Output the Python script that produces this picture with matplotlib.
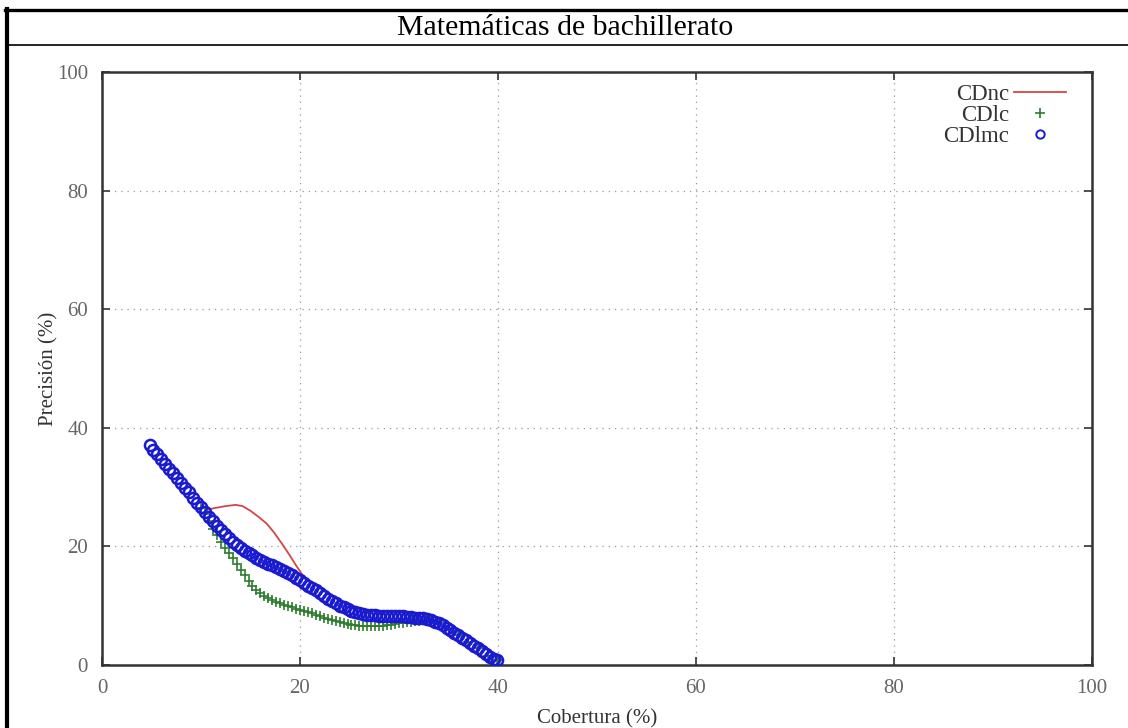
import matplotlib
matplotlib.use("Agg")
import matplotlib.pyplot as plt
from matplotlib.lines import Line2D

plt.rcParams['font.family'] = ['Liberation Serif', 'DejaVu Serif']

title = "Matemáticas de bachillerato"
xlabel = "Cobertura (%)"
ylabel = "Precisión (%)"
ticks = [0, 20, 40, 60, 80, 100]

# CDnc (red line)
cdnc_x = [10.6, 11.5, 12.5, 13.5, 14.2, 15.0, 15.8, 16.6, 17.4, 18.2, 19.0, 19.6, 20.2]
cdnc_y = [26.2, 26.5, 26.8, 27.0, 26.8, 26.0, 25.0, 23.9, 22.3, 20.4, 18.4, 16.8, 15.3]

# CDlc (green crosses)
cdlc_x = [10.0, 10.4, 10.8, 11.2, 11.6, 12.0, 12.4, 12.8, 13.2, 13.6, 14.0, 14.4, 14.8,
          15.2, 15.6, 16.0, 16.4, 16.8, 17.2, 17.6, 18.0, 18.4, 18.8, 19.2, 19.6, 20.0,
          20.4, 20.8, 21.2, 21.6, 22.0, 22.4, 22.8, 23.2, 23.6, 24.0, 24.4, 24.8, 25.2,
          25.6, 26.0, 26.4, 26.8, 27.2, 27.6, 28.0, 28.4, 28.8, 29.2, 29.6, 30.0, 30.4,
          30.8, 31.2, 31.6, 32.0, 32.4, 32.8, 33.2, 34.0, 35.0, 36.0, 37.0, 38.0, 39.0, 39.9]
cdlc_y = [26.4, 25.4, 24.2, 23.0, 21.9, 20.8, 19.8, 18.9, 18.0, 17.0, 16.0, 15.1, 14.2,
          13.4, 12.7, 12.2, 11.7, 11.3, 11.0, 10.7, 10.4, 10.1, 9.9, 9.7, 9.5, 9.3,
          9.1, 8.9, 8.7, 8.5, 8.3, 8.0, 7.8, 7.6, 7.4, 7.2, 7.0, 6.9, 6.8,
          6.7, 6.6, 6.5, 6.5, 6.5, 6.5, 6.6, 6.6, 6.7, 6.8, 6.9, 7.0, 7.1,
          7.2, 7.3, 7.4, 7.5, 7.6, 7.6, 7.5, 7.0, 6.2, 5.0, 3.9, 2.8, 1.6, 0.8]

# CDlmc (blue circles)
cdlmc_x = [4.8, 5.2, 5.6, 6.0, 6.4, 6.8, 7.2, 7.6, 8.0, 8.4, 8.8, 9.2, 9.6, 10.0,
           10.4, 10.8, 11.2, 11.6, 12.0, 12.4, 12.8, 13.2, 13.6, 14.0, 14.4, 14.8,
           15.2, 15.6, 16.0, 16.4, 16.8, 17.2, 17.6, 18.0, 18.4, 18.8, 19.2, 19.6,
           20.0, 20.4, 20.8, 21.2, 21.6, 22.0, 22.4, 22.8, 23.2, 23.6, 24.0, 24.4,
           24.8, 25.2, 25.6, 26.0, 26.4, 26.8, 27.2, 27.6, 28.0, 28.4, 28.8, 29.2,
           29.6, 30.0, 30.4, 30.8, 31.2, 31.6, 32.0, 32.4, 32.8, 33.2, 33.6, 34.0,
           34.4, 34.8, 35.2, 35.6, 36.0, 36.4, 36.8, 37.2, 37.6, 38.0, 38.4, 38.8,
           39.2, 39.6, 39.9]
cdlmc_y = [37.1, 36.3, 35.5, 34.7, 33.9, 33.1, 32.3, 31.5, 30.7, 29.9, 29.1, 28.2, 27.4, 26.6,
           25.8, 25.0, 24.2, 23.5, 22.8, 22.1, 21.4, 20.8, 20.2, 19.7, 19.3, 18.9,
           18.5, 18.1, 17.7, 17.4, 17.1, 16.8, 16.5, 16.2, 15.9, 15.5, 15.1, 14.7,
           14.3, 13.9, 13.4, 13.0, 12.6, 12.2, 11.7, 11.2, 10.8, 10.4, 10.0, 9.7,
           9.4, 9.1, 8.9, 8.7, 8.6, 8.5, 8.4, 8.4, 8.3, 8.3, 8.3, 8.3,
           8.2, 8.2, 8.2, 8.1, 8.1, 8.0, 8.0, 7.9, 7.8, 7.6, 7.3, 7.0,
           6.7, 6.3, 5.9, 5.4, 5.0, 4.6, 4.2, 3.7, 3.2, 2.8, 2.3, 1.8,
           1.4, 1.0, 0.8]

fig = plt.figure(figsize=(11.28, 7.28), dpi=100)
ax = fig.add_axes([102 / 1128, 63 / 728, 990 / 1128, 593 / 728])

ax.plot(cdnc_x, cdnc_y, color='#d64545', lw=1.3, label='CDnc', zorder=3)
ax.plot(cdlc_x, cdlc_y, ls='none', marker='+', ms=7, mew=1.2, color='#2e7d2e',
        label='CDlc', zorder=4)
ax.plot(cdlmc_x, cdlmc_y, ls='none', marker='o', ms=8, mew=1.8, mfc='none',
        mec='#1a1ad0', label='CDlmc', zorder=5)

ax.set_xlim(0, 100)
ax.set_ylim(0, 100)
ax.set_xticks(ticks)
ax.set_yticks(ticks)
ax.grid(True, color='#999999', linestyle=(0, (1, 4)), lw=0.9)
ax.tick_params(direction='in', top=True, right=True, length=6, width=1.2,
               labelsize=15, labelcolor='#666666', color='#333333', pad=10)
for sp in ax.spines.values():
    sp.set_color('#333333')
    sp.set_linewidth(1.8)

ax.set_xlabel(xlabel, fontsize=15, color='#333333', labelpad=8)
ax.set_ylabel(ylabel, fontsize=15, color='#333333', labelpad=-1)

leg = ax.legend(loc='upper right', bbox_to_anchor=(0.995, 1.015), frameon=False,
                markerfirst=False, numpoints=1, handlelength=2.3, handletextpad=0.2,
                labelspacing=0.0, fontsize=16.5)
for t in leg.get_texts():
    t.set_color('#333333')
leg.legend_handles[2].set_markersize(6)
leg.legend_handles[2].set_markeredgewidth(1.4)

fig.text(0.501, 1 - 28 / 728, title, ha='center', va='center', fontsize=21.5)

# table cell frame around the chart
fig.add_artist(Line2D([5 / 1128, 1], [1 - 10 / 728] * 2, color='black', lw=2.4,
                      transform=fig.transFigure))
fig.add_artist(Line2D([9 / 1128, 1], [1 - 45 / 728] * 2, color='black', lw=1.2,
                      transform=fig.transFigure))
fig.add_artist(Line2D([7 / 1128] * 2, [0, 1 - 9 / 728], color='black', lw=3.0,
                      transform=fig.transFigure))

fig.savefig("out.png", dpi=100)
plt.close(fig)
